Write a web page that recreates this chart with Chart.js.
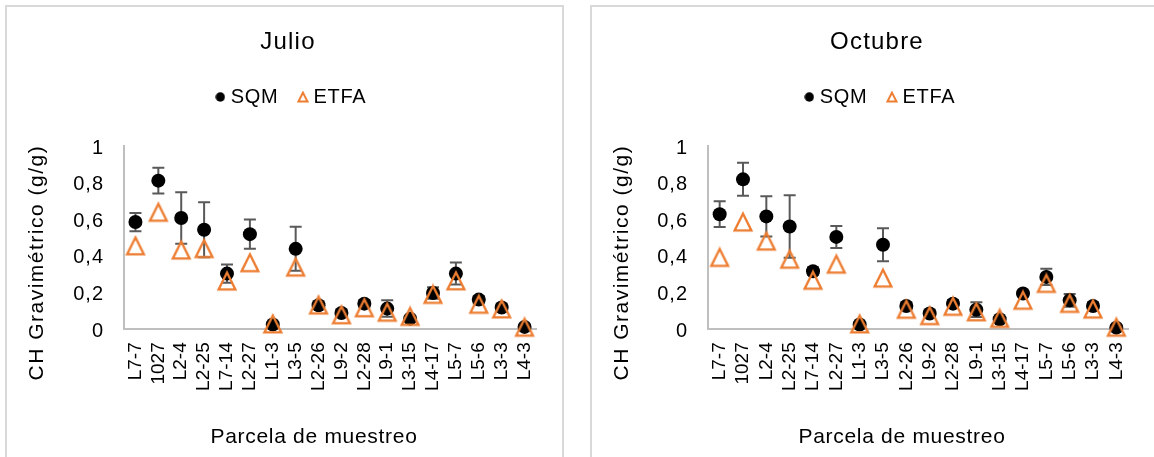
<!DOCTYPE html>
<html>
<head>
<meta charset="utf-8">
<script src="https://cdn.jsdelivr.net/npm/chart.js@4.4.1/dist/chart.umd.min.js"></script>
<style>
  html, body { margin: 0; padding: 0; background: #fff; overflow: hidden; width: 1154px; height: 457px; }
  .panel { position: absolute; top: 5px; border: 2px solid #d9d9d9; border-bottom: none; background: #fff; }
  #p1 { left: 5px; width: 555px; height: 460px; }
  #p2 { left: 590px; width: 562px; height: 460px; }
  canvas { display: block; }
</style>
</head>
<body>
<div class="panel" id="p1"><canvas id="c1" width="555" height="450"></canvas></div>
<div class="panel" id="p2"><canvas id="c2" width="562" height="450"></canvas></div>
<script>
// Sampling plots (x axis categories)
const parcelas = ['L7-7', '1027', 'L2-4', 'L2-25', 'L7-14', 'L2-27', 'L1-3', 'L3-5', 'L2-26',
                  'L9-2', 'L2-28', 'L9-1', 'L3-15', 'L4-17', 'L5-7', 'L5-6', 'L3-3', 'L4-3'];

// Gravimetric water content (g/g) — July
const julioSQM    = [0.585, 0.811, 0.607, 0.543, 0.304, 0.519, 0.026, 0.439, 0.131,
                     0.089, 0.140, 0.113, 0.058, 0.198, 0.304, 0.162, 0.119, 0.013];
const julioSQMErr = [0.050, 0.070, 0.140, 0.150, 0.050, 0.080, 0.010, 0.120, 0.020,
                     0.020, 0.020, 0.045, 0.015, 0.032, 0.060, 0.020, 0.020, 0.010];
const julioETFA   = [0.455, 0.638, 0.432, 0.440, 0.263, 0.363, 0.029, 0.339, 0.132,
                     0.079, 0.117, 0.093, 0.070, 0.190, 0.264, 0.136, 0.111, 0.011];

// Gravimetric water content (g/g) — October
const octubreSQM    = [0.628, 0.818, 0.616, 0.561, 0.317, 0.504, 0.026, 0.461, 0.127,
                       0.086, 0.140, 0.107, 0.055, 0.195, 0.286, 0.158, 0.127, 0.009];
const octubreSQMErr = [0.070, 0.090, 0.110, 0.170, 0.020, 0.060, 0.010, 0.090, 0.020,
                       0.020, 0.020, 0.040, 0.010, 0.015, 0.045, 0.035, 0.020, 0.010];
const octubreETFA   = [0.392, 0.585, 0.481, 0.382, 0.267, 0.355, 0.029, 0.279, 0.109,
                       0.074, 0.125, 0.095, 0.059, 0.158, 0.250, 0.141, 0.110, 0.011];

// Y axis tick labels (decimal comma)
const yTickLabels = ['0', '0,2', '0,4', '0,6', '0,8', '1'];

const FONT = 'Liberation Sans, Arial, Helvetica, sans-serif';
const ORANGE = '#ED7D31';

// Open triangle marker
function triangleIcon(size, lw, inset) {
  const c = document.createElement('canvas');
  c.width = size; c.height = size;
  const g = c.getContext('2d');
  g.strokeStyle = ORANGE;
  g.lineWidth = lw;
  g.lineJoin = 'miter';
  g.beginPath();
  g.moveTo(size / 2, inset);
  g.lineTo(size - inset, size - inset);
  g.lineTo(inset, size - inset);
  g.closePath();
  g.stroke();
  return c;
}
// Filled circle marker (legend)
function circleIcon(d) {
  const c = document.createElement('canvas');
  c.width = d; c.height = d;
  const g = c.getContext('2d');
  g.fillStyle = '#000';
  g.beginPath();
  g.arc(d / 2, d / 2, d / 2 - 0.3, 0, Math.PI * 2);
  g.fill();
  return c;
}

const triMarker = triangleIcon(22, 2.3, 2.6);
const triLegend = triangleIcon(12, 2, 1.6);
const dotLegend = circleIcon(10);

// Error bars (± value) for the SQM series, drawn through the chart scales
const errorBars = {
  id: 'errorBars',
  beforeDatasetsDraw(chart, args, opts) {
    const meta = chart.getDatasetMeta(0);
    const ys = chart.scales.y;
    const vals = chart.data.datasets[0].data;
    const errs = opts.errors || [];
    const ctx = chart.ctx;
    ctx.save();
    ctx.strokeStyle = '#595959';
    ctx.lineWidth = 2;
    meta.data.forEach((pt, i) => {
      const e = errs[i];
      if (!e) return;
      const x = pt.x;
      const yTop = ys.getPixelForValue(vals[i] + e);
      const yBot = ys.getPixelForValue(vals[i] - e);
      const half = 6;
      ctx.beginPath();
      ctx.moveTo(x, yTop); ctx.lineTo(x, yBot);
      ctx.moveTo(x - half, yTop); ctx.lineTo(x + half, yTop);
      ctx.moveTo(x - half, yBot); ctx.lineTo(x + half, yBot);
      ctx.stroke();
    });
    ctx.restore();
  }
};

// Wrap a drawing/measuring method: letter spacing for its text, optional shift
function styled(target, method, px, dx = 0, dy = 0) {
  const orig = target[method];
  target[method] = function (...args) {
    const ctx = this.ctx;
    ctx.save();
    ctx.translate(dx, dy);
    ctx.letterSpacing = px + 'px';
    try { return orig.apply(this, args); } finally { ctx.restore(); }
  };
}

function makeChart(canvasId, titleText, sqm, sqmErr, etfa, padLeft, chartLeft) {
  const yTitleSize = 21;
  const yTitleCenter = 30;
  const chart = new Chart(document.getElementById(canvasId), {
    type: 'line',
    data: {
      labels: parcelas,
      datasets: [
        {
          label: 'SQM',
          data: sqm,
          showLine: false,
          order: 1,
          clip: false,
          pointStyle: 'circle',
          pointRadius: 7,
          pointBackgroundColor: '#000',
          pointBorderColor: '#000',
          pointBorderWidth: 0
        },
        {
          label: 'ETFA',
          data: etfa,
          showLine: false,
          order: 0,
          clip: false,
          pointStyle: triMarker,
          pointRadius: 10,
          pointBackgroundColor: 'rgba(0,0,0,0)',
          pointBorderColor: ORANGE
        }
      ]
    },
    options: {
      responsive: false,
      animation: false,
      devicePixelRatio: 1,
      events: [],
      layout: { padding: { left: padLeft, right: 26, top: 0, bottom: 0 } },
      plugins: {
        tooltip: { enabled: false },
        errorBars: { errors: sqmErr },
        title: {
          display: true,
          text: titleText,
          color: '#000',
          font: { family: FONT, size: 24, weight: 'normal', lineHeight: 1.2 },
          padding: { top: 21.1, bottom: 6.1 }
        },
        legend: {
          display: true,
          position: 'top',
          labels: {
            usePointStyle: true,
            boxWidth: 1,
            boxHeight: 8,
            padding: 24,
            color: '#000',
            font: { family: FONT, size: 20 },
            generateLabels(chart) {
              const icons = [dotLegend, triLegend];
              return chart.data.datasets.map((ds, i) => ({
                text: ds.label,
                pointStyle: icons[i],
                fillStyle: 'rgba(0,0,0,0)',
                strokeStyle: 'rgba(0,0,0,0)',
                lineWidth: 0,
                hidden: false,
                fontColor: '#000',
                datasetIndex: i
              }));
            }
          }
        },
        // empty spacer between the legend and the plot area
        subtitle: {
          display: true,
          text: '',
          weight: 500,
          font: { size: 10, lineHeight: 1 },
          padding: { top: 0, bottom: 19 }
        }
      },
      scales: {
        x: {
          type: 'category',
          offset: true,
          grid: { display: false, drawTicks: false },
          border: { display: true, color: '#bfbfbf', width: 2 },
          ticks: {
            autoSkip: false,
            minRotation: 90,
            maxRotation: 90,
            padding: 13,
            color: '#000',
            font: { family: FONT, size: 19 }
          },
          title: {
            display: true,
            text: 'Parcela de muestreo',
            color: '#000',
            font: { family: FONT, size: 21 },
            padding: { top: 0, bottom: 7.4 }
          },
          afterFit(scale) { scale.height = 127.7; }
        },
        y: {
          min: 0,
          max: 1,
          grid: { display: false, drawTicks: false },
          border: { display: true, color: '#bfbfbf', width: 2 },
          ticks: {
            stepSize: 0.2,
            padding: 20,
            labelOffset: 2,
            color: '#000',
            font: { family: FONT, size: 20 },
            callback: (v, i) => yTickLabels[i]
          },
          title: {
            display: true,
            text: 'CH Gravimétrico (g/g)',
            color: '#000',
            font: { family: FONT, size: yTitleSize },
            padding: { top: yTitleCenter - padLeft - yTitleSize * 0.6, bottom: 0 }
          },
          afterFit(scale) { scale.width = chartLeft - padLeft; }
        }
      }
    },
    plugins: [errorBars]
  });

  // text spacing (and placement) of the titles, legend and value axis
  styled(chart.titleBlock, 'draw', 1.2);
  styled(chart.legend, 'fit', 0.7);
  styled(chart.legend, 'draw', 0.7, 5, 0);
  styled(chart.scales.x, 'drawTitle', 0.7, -16, 0);
  styled(chart.scales.y, 'drawTitle', 1.5, 0, 25);
  styled(chart.scales.y, 'drawLabels', 1);
  chart.update();
  return chart;
}

makeChart('c1', 'Julio', julioSQM, julioSQMErr, julioETFA, 33, 117);
makeChart('c2', 'Octubre', octubreSQM, octubreSQMErr, octubreETFA, 34, 116);
</script>
</body>
</html>
